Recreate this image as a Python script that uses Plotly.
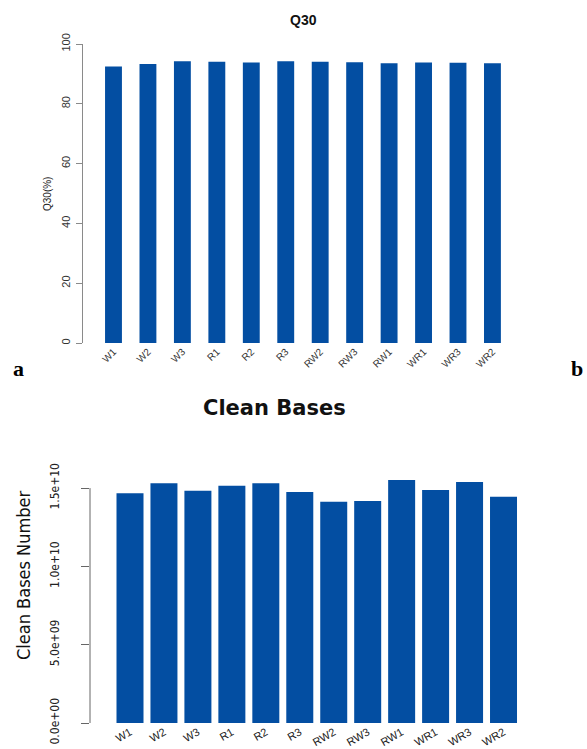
import plotly.graph_objects as go

samples = ["W1", "W2", "W3", "R1", "R2", "R3", "RW2", "RW3", "RW1", "WR1", "WR3", "WR2"]
q30_values = [92.5, 93.3, 94.2, 94.1, 93.8, 94.2, 94.1, 93.9, 93.6, 93.8, 93.7, 93.6]
clean_bases = [1.467e10, 1.531e10, 1.483e10, 1.515e10, 1.531e10, 1.475e10,
               1.413e10, 1.418e10, 1.552e10, 1.488e10, 1.539e10, 1.445e10]
q30_ticks = [0, 20, 40, 60, 80, 100]
cb_ticks = [0, 5e9, 1e10, 1.5e10]
cb_ticktext = ["0.0e+00", "5.0e+09", "1.0e+10", "1.5e+10"]

W, H = 587, 749
BAR = "#034ea2"
AXC = "#8a8a8a"
NARROW = "Liberation Sans Narrow, DejaVu Sans Condensed, Arial Narrow, sans-serif"
SANS = "Liberation Sans, Arial, sans-serif"

def px(x):
    return x / W

def py(y):
    return 1 - y / H

xpos = list(range(len(samples)))

fig = go.Figure()
fig.add_trace(go.Bar(x=xpos, y=q30_values, width=0.49,
                     marker=dict(color=BAR, line=dict(width=0)),
                     xaxis="x", yaxis="y", showlegend=False))
fig.add_trace(go.Bar(x=xpos, y=clean_bases, width=0.795,
                     marker=dict(color=BAR, line=dict(width=0)),
                     xaxis="x2", yaxis="y2", showlegend=False))

fig.update_layout(
    width=W, height=H,
    margin=dict(l=0, r=0, t=0, b=0, autoexpand=False),
    paper_bgcolor="white", plot_bgcolor="white",
    xaxis=dict(domain=[px(83), px(530)], range=[-0.885, 12.09], anchor="y",
               tickmode="array", tickvals=xpos, ticktext=samples, tickangle=-45,
               showline=False, showgrid=False, zeroline=False, ticks="", automargin=False,
               tickfont=dict(family=SANS, size=10, color="#333")),
    yaxis=dict(domain=[py(343), py(44)], range=[0, 100], anchor="x",
               tickmode="array", tickvals=q30_ticks, tickangle=-90,
               showline=True, linecolor=AXC, linewidth=1, automargin=False,
               ticks="outside", ticklen=6, tickcolor=AXC,
               showgrid=False, zeroline=False, ticklabelstandoff=2,
               tickfont=dict(family=SANS, size=11, color="#333")),
    xaxis2=dict(domain=[px(90), px(530)], range=[-1.178, 11.78], anchor="y2",
                tickmode="array", tickvals=xpos, ticktext=samples, tickangle=-30,
                showline=False, showgrid=False, zeroline=False, ticks="", automargin=False,
                tickfont=dict(family=SANS, size=11, color="#222")),
    yaxis2=dict(domain=[py(723), py(470)], range=[0, 1.6156e10], anchor="x2",
                tickmode="array", tickvals=cb_ticks, ticktext=cb_ticktext, tickangle=-90,
                showline=False, ticks="outside", ticklen=8, tickcolor="#666", automargin=False,
                showgrid=False, zeroline=False, ticklabelstandoff=17,
                tickfont=dict(family=NARROW, size=12, color="#222")),
)

fig.add_shape(type="line", xref="x2 domain", yref="y2", x0=0, x1=0,
              y0=min(cb_ticks), y1=max(cb_ticks), line=dict(color="#666", width=1))

annotations = [
    dict(text="<b>Q30</b>", x=px(303), y=py(20), font=dict(family=SANS, size=14, color="#111")),
    dict(text="Q30(%)", x=px(47), y=py(194), textangle=-90, font=dict(family=SANS, size=10, color="#222")),
    dict(text="<b>a</b>", x=px(18), y=py(368), font=dict(family="Liberation Serif, Times New Roman, serif", size=22, color="black")),
    dict(text="<b>b</b>", x=px(577), y=py(368), font=dict(family="Liberation Serif, Times New Roman, serif", size=22, color="black")),
    dict(text="<b>Clean Bases</b>", x=px(274), y=py(408), font=dict(family="DejaVu Sans, sans-serif", size=21, color="#111")),
    dict(text="Clean Bases Number", x=px(23), y=py(575), textangle=-90, font=dict(family=NARROW, size=18, color="#111")),
]
for a in annotations:
    a.update(xref="paper", yref="paper", showarrow=False, xanchor="center", yanchor="middle")
fig.update_layout(annotations=annotations)

fig.write_html("out.html", config={"displayModeBar": False},
               post_script="document.body.style.margin='0';document.body.style.overflow='hidden';")
